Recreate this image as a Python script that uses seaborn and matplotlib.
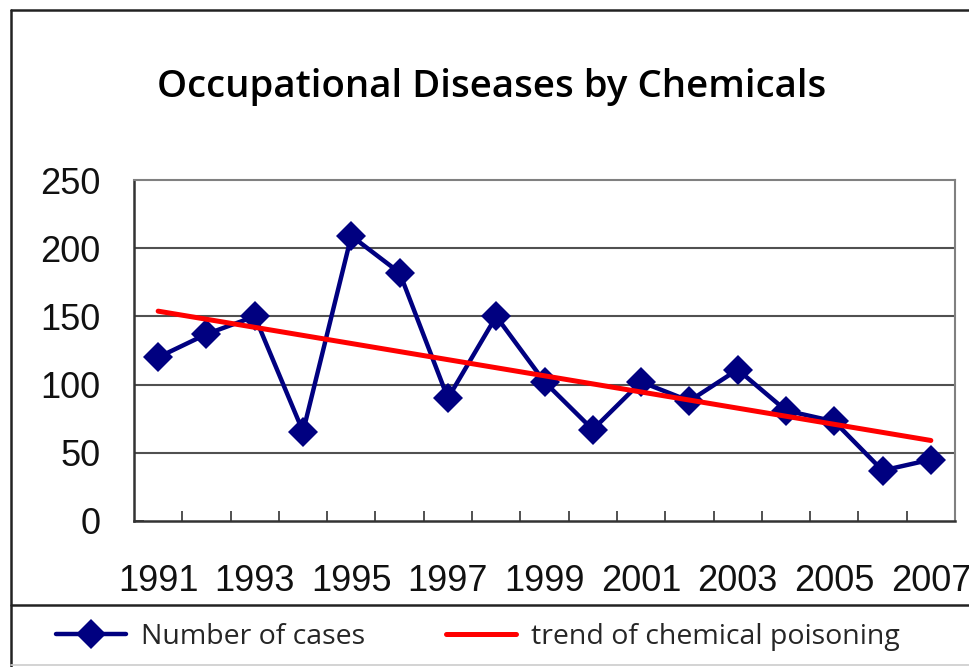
import matplotlib
matplotlib.use("Agg")
import matplotlib.pyplot as plt
from matplotlib.lines import Line2D
from matplotlib.ticker import FixedLocator
import numpy as np
import pandas as pd
import seaborn as sns

years = [1991, 1992, 1993, 1994, 1995, 1996, 1997, 1998, 1999,
         2000, 2001, 2002, 2003, 2004, 2005, 2006, 2007]
cases = [120, 137, 150, 65.5, 209, 182, 90, 150, 102,
         67, 102, 88, 111, 81, 73, 37, 45]
y_ticks = [0, 50, 100, 150, 200, 250]
title = "Occupational Diseases by Chemicals"
series_label = "Number of cases"
trend_label = "trend of chemical poisoning"

sns.set_theme(style="white")
plt.rcParams['font.family'] = ['Liberation Sans', 'DejaVu Sans']

W, H = 969, 667
fig = plt.figure(figsize=(W / 100, H / 100), dpi=100)
ax = fig.add_axes([134 / W, 1 - 521 / H, (955 - 134) / W, (521 - 180) / H])

df = pd.DataFrame({"idx": np.arange(len(years)), "year": years, "cases": cases})

sns.lineplot(data=df, x="idx", y="cases", ax=ax, color="#000080", lw=3.2,
             marker="D", markersize=15, markeredgewidth=0, label=series_label,
             zorder=3)
sns.regplot(data=df, x="idx", y="cases", ax=ax, scatter=False, ci=None,
            truncate=True, color="red", label=trend_label,
            line_kws={"lw": 3.6, "zorder": 4})

ax.set_xlim(-0.5, len(years) - 0.5)
ax.set_ylim(0, 250)
ax.set_xlabel("")
ax.set_ylabel("")

# grid
for v in y_ticks[1:-1]:
    ax.axhline(v, color="#505050", lw=1.5, zorder=1)

# ticks
ax.set_yticks(y_ticks)
ax.set_yticklabels([str(v) for v in y_ticks], fontsize=26, color="#111111")
ax.set_xticks(df["idx"][::2])
ax.set_xticklabels([str(y) for y in years[::2]], fontsize=26, color="#111111")
ax.xaxis.set_minor_locator(FixedLocator(np.arange(0.5, len(years) - 1, 1.0)))
ax.tick_params(axis="x", which="major", length=0, pad=31)
ax.tick_params(axis="x", which="minor", length=7.5, width=1.2, direction="in",
               color="#333333", bottom=True)
ax.tick_params(axis="y", which="major", length=7.5, width=1.2, direction="in",
               color="#333333", left=True, pad=24)

for s in ["left", "bottom"]:
    ax.spines[s].set_color("#333333")
    ax.spines[s].set_linewidth(1.8)
for s in ["top", "right"]:
    ax.spines[s].set_color("#808080")
    ax.spines[s].set_linewidth(1.5)
ax.set_facecolor("white")

# title
fig.text(492 / W, 1 - 87 / H, title, ha="center", va="center",
         fontsize=27.6, fontweight="semibold", family=["Open Sans", "DejaVu Sans"],
         color="black")

# legend
handles, labels = ax.get_legend_handles_labels()
leg = fig.legend(handles, labels, loc="center left",
                 bbox_to_anchor=(30 / W, 1 - 637 / H), ncol=2, frameon=False,
                 prop={"family": ["Open Sans", "DejaVu Sans"], "size": 20.5},
                 handlelength=2.46, handletextpad=0.53, columnspacing=2.85)
if ax.get_legend() is not None:
    ax.get_legend().remove()

# outer frame lines
def fline(x0, y0, x1, y1, color="#222222", lw=1.8):
    fig.add_artist(Line2D([x0 / W, x1 / W], [1 - y0 / H, 1 - y1 / H],
                          color=color, lw=lw, transform=fig.transFigure))

fline(11, 10, 969, 10)
fline(11, 10, 11, 667)
fline(11, 605, 969, 605)
fline(11, 665, 969, 665, color="#cccccc", lw=1.2)

fig.savefig("out.png", dpi=100, facecolor="white")
